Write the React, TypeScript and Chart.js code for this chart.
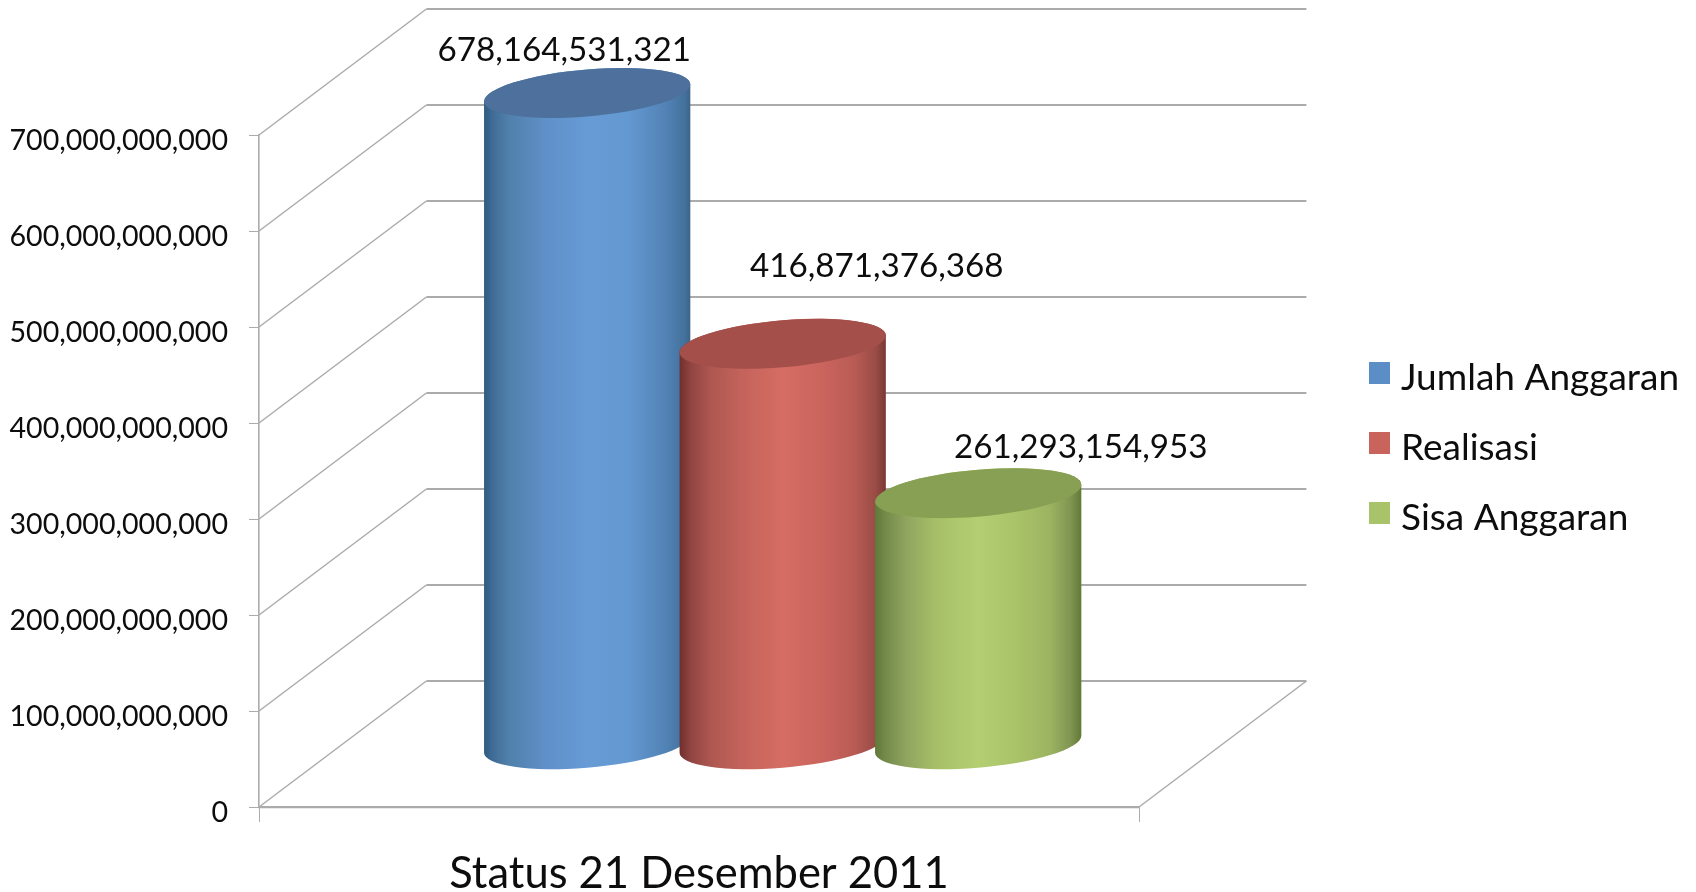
import React, { useEffect, useRef } from "react";
import { Chart, registerables, BarController, BarElement } from "chart.js";

const categories = ["Status 21 Desember 2011"];
const seriesNames = ["Jumlah Anggaran", "Realisasi", "Sisa Anggaran"];
const jumlahAnggaran = [678164531321];
const realisasi = [416871376368];
const sisaAnggaran = [261293154953];
const seriesColors = ["#5b8ec6", "#c9645c", "#a9c36a"];

const FONT = "Lato, Carlito, 'Open Sans', sans-serif";
const GRID = "#ababab";
const DEPTH_X = 167.4;
const DEPTH_Y = -126;
const TILT = -8.5;
const MINOR = 23.5;

const shades: Record<string, { cap: string; side: [number, string][] }> = {
  "#5b8ec6": {
    cap: "#4d719c",
    side: [[0, "#2f5a80"], [0.04, "#3f6c96"], [0.12, "#5080ab"], [0.3, "#5f90c8"], [0.5, "#669bd6"], [0.7, "#6398d0"], [0.88, "#5283b6"], [0.97, "#44729e"], [1, "#3c6488"]],
  },
  "#c9645c": {
    cap: "#a44f4a",
    side: [[0, "#6f302d"], [0.05, "#8f4340"], [0.15, "#ad5750"], [0.3, "#c4635b"], [0.5, "#d56d63"], [0.7, "#c9645d"], [0.85, "#b85b54"], [0.95, "#9a4c46"], [1, "#7a3833"]],
  },
  "#a9c36a": {
    cap: "#88a053",
    side: [[0, "#5f7a38"], [0.05, "#738a4a"], [0.15, "#8fa45f"], [0.3, "#a7c068"], [0.5, "#b3cf72"], [0.7, "#a8c268"], [0.85, "#9cb361"], [0.95, "#7f9450"], [1, "#617a36"]],
  },
};

class CylinderElement extends BarElement {
  static id = "cylinder";
  static defaults = { ...BarElement.defaults };
  draw(ctx: CanvasRenderingContext2D) {
    const { x, y, base, width } = this as any;
    const color = (this as any).options.backgroundColor;
    const shade = shades[color];
    const cx = x + DEPTH_X / 2;
    const a = width / 2;
    const topY = y + DEPTH_Y / 2;
    const botY = base + DEPTH_Y / 2 + 0.7;
    const arcAt = (cy: number, from: number, to: number) => {
      ctx.save();
      ctx.transform(a, TILT, 0, MINOR, cx, cy);
      ctx.arc(0, 0, 1, from, to);
      ctx.restore();
    };
    const grad = ctx.createLinearGradient(cx - a, 0, cx + a, 0);
    shade.side.forEach(([p, c]) => grad.addColorStop(p, c));
    ctx.save();
    ctx.beginPath();
    arcAt(topY, Math.PI, Math.PI * 2);
    arcAt(botY, 0, Math.PI);
    ctx.closePath();
    ctx.fillStyle = grad;
    ctx.fill();
    ctx.beginPath();
    arcAt(topY, 0, Math.PI * 2);
    ctx.closePath();
    ctx.fillStyle = shade.cap;
    ctx.fill();
    ctx.restore();
  }
}

class CylinderController extends BarController {
  static id = "cylinder";
  static defaults = { ...BarController.defaults, dataElementType: "cylinder" };
  static overrides = BarController.overrides;
}

Chart.register(...registerables, CylinderElement as any, CylinderController as any);

const labelShift = [
  { x: 60.7, y: -106 },
  { x: 177.7, y: -141 },
  { x: 186.2, y: -109 },
];

const swatch = (color: string) => {
  const c = document.createElement("canvas");
  c.width = 21;
  c.height = 33;
  const g = c.getContext("2d")!;
  g.fillStyle = color;
  g.fillRect(0, 0, 21, 22);
  return c;
};

const scene = {
  id: "scene",
  afterLayout(chart: any) {
    const l = chart.legend;
    const pad = l.options.labels.padding;
    l.left = 1376.5 - pad;
    l.right = 1696;
    l.top = 360 - pad;
    l.bottom = 892;
  },
  beforeDatasetsDraw(chart: any) {
    const { ctx, chartArea, scales } = chart;
    const { left, right } = chartArea;
    const yS = scales.y;
    ctx.save();
    ctx.strokeStyle = GRID;
    yS.ticks.forEach((t: any) => {
      const py = yS.getPixelForValue(t.value);
      ctx.lineWidth = 1.5;
      ctx.beginPath();
      ctx.moveTo(left, py);
      ctx.lineTo(left + DEPTH_X, py + DEPTH_Y);
      ctx.stroke();
      ctx.lineWidth = 2.2;
      ctx.beginPath();
      ctx.moveTo(left + DEPTH_X, py + DEPTH_Y);
      ctx.lineTo(right + DEPTH_X, py + DEPTH_Y);
      ctx.stroke();
    });
    const y0 = yS.getPixelForValue(0);
    ctx.lineWidth = 1.5;
    ctx.beginPath();
    ctx.moveTo(right, y0);
    ctx.lineTo(right + DEPTH_X, y0 + DEPTH_Y);
    ctx.stroke();
    ctx.restore();

    chart.data.datasets.forEach((_: any, i: number) => {
      chart.getDatasetMeta(i).data.forEach((el: any) => el.draw(ctx));
    });

    ctx.save();
    ctx.fillStyle = "#0d0d0d";
    ctx.font = `33.2px ${FONT}`;
    ctx.textAlign = "center";
    ctx.textBaseline = "middle";
    chart.data.datasets.forEach((ds: any, i: number) => {
      chart.getDatasetMeta(i).data.forEach((el: any, j: number) => {
        ctx.fillText(ds.data[j].toLocaleString("en-US"), el.x + labelShift[i].x, el.y + labelShift[i].y);
      });
    });
    ctx.restore();
    return false;
  },
};

export default function App() {
  const ref = useRef<HTMLCanvasElement>(null);
  useEffect(() => {
    const values = [jumlahAnggaran, realisasi, sisaAnggaran];
    const chart = new Chart(ref.current!, {
      type: "cylinder" as any,
      data: {
        labels: categories,
        datasets: seriesNames.map((label, i) => ({
          label,
          data: values[i],
          backgroundColor: seriesColors[i],
          categoryPercentage: 0.6665,
          barPercentage: 1.055,
        })),
      },
      options: {
        animation: false,
        responsive: false,
        devicePixelRatio: 1,
        events: [],
        layout: { padding: { top: 135, right: 357, left: 0, bottom: 0 } },
        scales: {
          x: {
            type: "category",
            offset: true,
            afterFit: (s: any) => {
              s.height = 85;
              s.paddingLeft = 0;
              s.paddingRight = 0;
            },
            border: { color: GRID, width: 2.2 },
            grid: { drawOnChartArea: false, color: GRID, tickLength: 15, offset: true },
            ticks: { color: "#0d0d0d", font: { family: FONT, size: 43.5 }, padding: 26, maxRotation: 0, autoSkip: false },
          },
          y: {
            type: "linear",
            min: 0,
            max: 700000000000,
            afterFit: (s: any) => {
              s.width = 259;
              s.paddingTop = 0;
              s.paddingBottom = 0;
            },
            border: { color: GRID, width: 1.6 },
            grid: { drawOnChartArea: false, color: GRID, tickLength: 10 },
            ticks: {
              stepSize: 100000000000,
              color: "#0d0d0d",
              font: { family: FONT, size: 28.6 },
              padding: 21,
              labelOffset: 6,
              callback: (v: any) => Number(v).toLocaleString("en-US"),
            },
          },
        },
        plugins: {
          title: { display: false },
          tooltip: { enabled: false },
          legend: {
            display: true,
            position: "right",
            align: "start",
            maxWidth: 200,
            labels: {
              color: "#0d0d0d",
              font: { family: FONT, size: 37 },
              usePointStyle: true,
              pointStyleWidth: 6,
              boxHeight: 22,
              padding: 33,
              generateLabels: (c: any) =>
                c.data.datasets.map((ds: any, i: number) => ({
                  text: ds.label,
                  pointStyle: swatch(ds.backgroundColor),
                  fillStyle: ds.backgroundColor,
                  strokeStyle: "transparent",
                  lineWidth: 0,
                  fontColor: "#0d0d0d",
                  hidden: false,
                  datasetIndex: i,
                })),
            },
          },
        },
      },
      plugins: [scene as any],
    } as any);
    return () => chart.destroy();
  }, []);
  return (
    <div style={{ position: "fixed", left: 0, top: 0, width: 1696, height: 892, background: "#ffffff" }}>
      <canvas ref={ref} width={1696} height={892} style={{ display: "block" }} />
    </div>
  );
}
